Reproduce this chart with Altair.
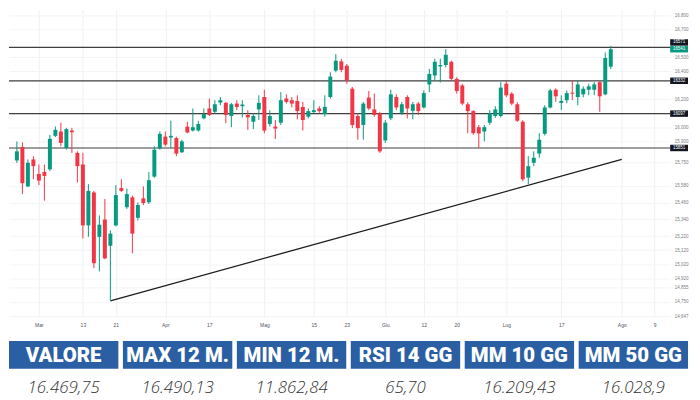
import altair as alt
import pandas as pd

# ---- candlestick data ----
opens = [15762, 15858, 15576, 15769, 15665, 15679, 15698, 15938, 15969, 15851,
         15976, 15816, 15733, 15297, 15533, 15215, 15339, 15151, 15297, 15564,
         15427, 15498, 15351, 15491, 15462, 15646, 15848, 15933, 15926, 15922,
         15820, 16004, 15976, 15976, 16063, 16134, 16110, 16176, 16174, 16080,
         16169, 16150, 16087, 16039, 16127, 16216, 16023, 16004, 16032, 16205,
         16193, 16188, 16145, 16075, 16108, 16134, 16094, 16216, 16405, 16471,
         16440, 16275, 16080, 16016, 16212, 16127, 16099, 15905, 16063, 16216,
         16103, 16216, 16117, 16169, 16141, 16306, 16370, 16435, 16445, 16468,
         16346, 16299, 16164, 16115, 16000, 15969, 16032, 16080, 16080, 16311,
         16240, 16164, 16039, 15639, 15745, 15811, 15952, 16141, 16268, 16174,
         16193, 16247, 16216, 16235, 16268, 16268, 16322, 16235, 16433]
highs = [15898, 15891, 15769, 15792, 15733, 15733, 15945, 16004, 16032, 15995,
         15995, 15827, 15816, 15592, 15544, 15368, 15486, 15262, 15585, 15627,
         15561, 15509, 15462, 15576, 15679, 15863, 15969, 15969, 16046, 15933,
         15910, 16039, 16134, 16046, 16134, 16205, 16193, 16216, 16181, 16174,
         16193, 16193, 16122, 16099, 16228, 16268, 16122, 16051, 16251, 16235,
         16216, 16228, 16181, 16134, 16193, 16150, 16228, 16393, 16523, 16488,
         16452, 16287, 16099, 16181, 16259, 16240, 16110, 16051, 16268, 16235,
         16181, 16228, 16181, 16181, 16263, 16417, 16490, 16490, 16558, 16476,
         16357, 16311, 16179, 16122, 16016, 16016, 16122, 16150, 16322, 16334,
         16251, 16179, 16051, 15792, 15827, 15957, 16157, 16275, 16278, 16228,
         16263, 16334, 16334, 16292, 16311, 16322, 16329, 16534, 16582]
lows = [15745, 15521, 15571, 15627, 15585, 15474, 15686, 15929, 15863, 15839,
        15816, 15604, 15203, 15215, 14991, 14968, 15055, 14757, 15290, 15537,
        15415, 15097, 15332, 15443, 15450, 15639, 15839, 15863, 15851, 15792,
        15816, 15957, 15969, 15969, 16056, 16080, 16099, 16157, 16028, 16000,
        16122, 16070, 15981, 15986, 16051, 15957, 16004, 15915, 16016, 16169,
        16141, 16056, 15976, 16063, 16099, 16103, 16075, 16205, 16393, 16393,
        16311, 15993, 15910, 15910, 16122, 16075, 15816, 15887, 16051, 16122,
        16087, 16063, 16056, 16087, 16134, 16251, 16334, 16320, 16428, 16334,
        16240, 16157, 15957, 15945, 15851, 15898, 16016, 16066, 16070, 16214,
        16157, 16037, 15613, 15592, 15721, 15781, 15940, 16134, 16181, 16122,
        16171, 16193, 16157, 16214, 16228, 16228, 16110, 16228, 16417]
closes = [15827, 15599, 15745, 15721, 15618, 15651, 15917, 15981, 15887, 15986,
          15964, 15721, 15297, 15544, 15026, 15302, 15061, 15238, 15514, 15544,
          15521, 15238, 15443, 15457, 15620, 15839, 15952, 15875, 15938, 15811,
          15898, 15962, 16000, 16023, 16094, 16087, 16164, 16193, 16087, 16164,
          16145, 16162, 16070, 16080, 16174, 15976, 16080, 15990, 16193, 16181,
          16169, 16115, 16051, 16115, 16122, 16115, 16145, 16362, 16476, 16410,
          16334, 16016, 15993, 16169, 16134, 16087, 15827, 16032, 16235, 16141,
          16164, 16134, 16164, 16115, 16244, 16381, 16468, 16445, 16518, 16346,
          16259, 16169, 16115, 15957, 15955, 16000, 16099, 16127, 16283, 16228,
          16169, 16046, 15627, 15721, 15781, 15910, 16141, 16263, 16221, 16188,
          16244, 16240, 16306, 16275, 16292, 16306, 16221, 16495, 16558]

# support / resistance levels and their labels
level_values = [16571, 16332, 16097, 15851]
level_labels = ["16571", "16332", "16097", "15851"]
last_price_label = "16541"

# trend line (day index, price)
trend_days = [17, 110]
trend_prices = [14757, 15769]

# axis ticks
tick_days = [4, 12, 18, 27, 35, 45, 54, 60, 67, 74, 80, 89, 99, 110, 116]
tick_labels = ["Mar", "13", "21", "Apr", "17", "Mag", "15", "23", "Giu",
               "12", "20", "Lug", "17", "Ago", "9"]
price_ticks = [16800, 16700, 16500, 16400, 16200, 16000, 15900, 15750, 15580,
               15460, 15340, 15220, 15120, 15020, 14920, 14855, 14750, 14647]

# table
headers = ["VALORE", "MAX 12 M.", "MIN 12 M.", "RSI 14 GG", "MM 10 GG", "MM 50 GG"]
table_values = ["16.469,75", "16.490,13", "11.862,84", "65,70", "16.209,43", "16.028,9"]

GREEN = "#089981"
RED = "#f23645"
W, H = 666, 310

df = pd.DataFrame({"day": list(range(len(opens))), "open": opens, "high": highs,
                   "low": lows, "close": closes})
df["dir"] = ["up" if c >= o else "down" for o, c in zip(opens, closes)]

lv = pd.DataFrame({"level": level_values, "label": level_labels})
lv_top = lv.iloc[:1]
lv_rest = lv.iloc[1:]
last_df = pd.DataFrame({"level": [closes[-1]], "label": [last_price_label]})
trend_df = pd.DataFrame({"day": trend_days, "price": trend_prices})

labels_js = "[" + ",".join("'" + t + "'" for t in tick_labels) + "]"
days_js = "[" + ",".join(str(d) for d in tick_days) + "]"

xscale = alt.Scale(domain=[-0.534, 117.9], nice=False, zero=False)
yscale = alt.Scale(domain=[14640, 16843], nice=False, zero=False)
xaxis = alt.Axis(values=tick_days, labelExpr=labels_js + "[indexof(" + days_js + ", datum.value)]",
                 grid=True, gridColor="#eef0f4", tickSize=0, domain=False,
                 labelFontSize=5, labelColor="#50535e", labelPadding=5, title=None,
                 labelFlush=False, labelFont="Liberation Sans")
yaxis = alt.Axis(orient="right", values=price_ticks, grid=True, gridColor="#f3f4f7",
                 tickSize=0, domain=False, labelFontSize=4.5, labelColor="#787b86",
                 labelAlign="center", labelPadding=11, title=None, labelFlush=False,
                 labelFont="Liberation Sans")


def X(f):
    return alt.X(f + ":Q", scale=xscale, axis=xaxis)


def Y(f):
    return alt.Y(f + ":Q", scale=yscale, axis=yaxis)


color = alt.Color("dir:N", scale=alt.Scale(domain=["up", "down"], range=[GREEN, RED]), legend=None)

levels = alt.Chart(lv).mark_rule(color="#3f3f3f", strokeWidth=1.2).encode(y=Y("level"))
trend = alt.Chart(trend_df).mark_line(color="#1c1c1c", strokeWidth=1.3).encode(x=X("day"), y=Y("price"))
wicks = alt.Chart(df).mark_rule(strokeWidth=1).encode(x=X("day"), y=Y("low"), y2="high", color=color)
bodies = alt.Chart(df).mark_bar(size=4).encode(x=X("day"), y=Y("open"), y2="close", color=color)

box_top = alt.Chart(lv_top).mark_rule(strokeWidth=6.5, strokeCap="butt", color="#131722", yOffset=-5).encode(
    y=Y("level"), x=alt.value(W), x2=alt.value(W + 18))
txt_top = alt.Chart(lv_top).mark_text(fontSize=4.5, color="white", yOffset=-5, font="Liberation Sans").encode(
    y=Y("level"), x=alt.value(W + 9), text="label")
box_last = alt.Chart(last_df).mark_rule(strokeWidth=6.5, strokeCap="butt", color=GREEN).encode(
    y=Y("level"), x=alt.value(W), x2=alt.value(W + 18))
txt_last = alt.Chart(last_df).mark_text(fontSize=4.5, color="white", font="Liberation Sans").encode(
    y=Y("level"), x=alt.value(W + 9), text="label")
box_rest = alt.Chart(lv_rest).mark_rule(strokeWidth=6.5, strokeCap="butt", color="#131722").encode(
    y=Y("level"), x=alt.value(W), x2=alt.value(W + 18))
txt_rest = alt.Chart(lv_rest).mark_text(fontSize=4.5, color="white", font="Liberation Sans").encode(
    y=Y("level"), x=alt.value(W + 9), text="label")

top = alt.layer(levels, trend, wicks, bodies, box_rest, txt_rest, box_top, txt_top,
                box_last, txt_last).properties(width=W, height=H)

tdf = pd.DataFrame({"header": headers, "value": table_values})
tx = alt.X("header:N", sort=headers, scale=alt.Scale(paddingInner=0.04, paddingOuter=0), axis=None)
rects = alt.Chart(tdf).mark_rect(color="#2b5fa3").encode(x=tx, y=alt.value(0), y2=alt.value(28))
htext = alt.Chart(tdf).mark_text(font="Roboto", fontWeight=900, fontSize=20.5,
                                 color="white").encode(x=tx, y=alt.value(15), text="header")
vtext = alt.Chart(tdf).mark_text(font="Open Sans", fontStyle="italic", fontWeight=300, fontSize=17,
                                 color="#333333").encode(x=tx, y=alt.value(47), text="value")
table = alt.layer(rects, htext, vtext).properties(width=684, height=54)

chart = alt.vconcat(top, table, spacing=14).properties(padding=0).configure_view(stroke=None)
chart.save("out.html", embed_options={"renderer": "svg", "actions": False})
